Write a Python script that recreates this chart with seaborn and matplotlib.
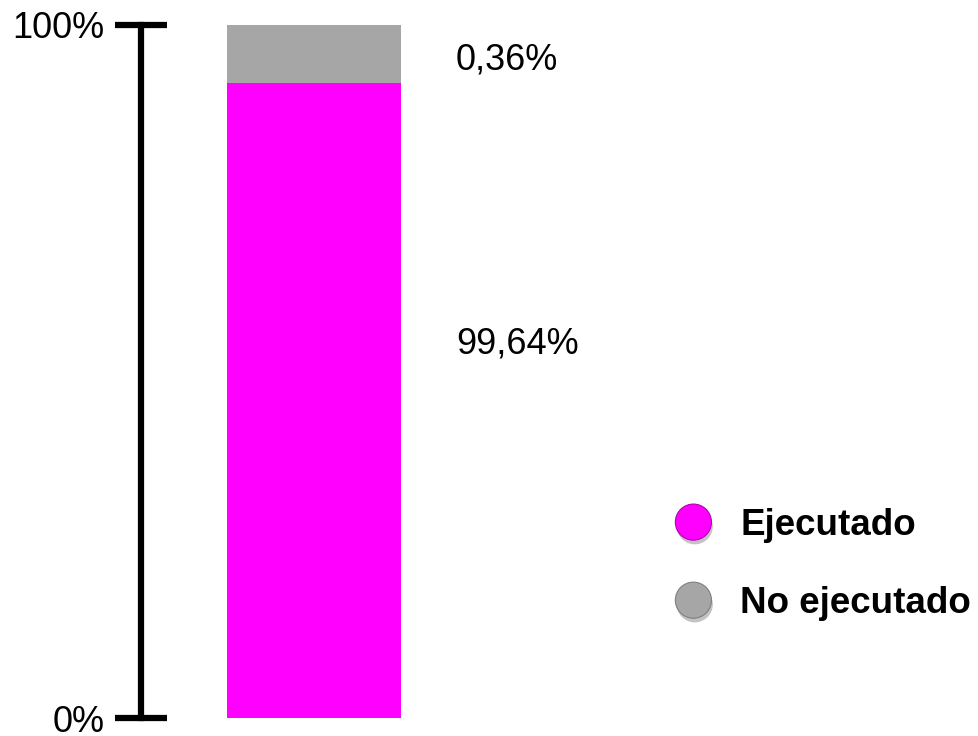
import numpy as np
import pandas as pd
import seaborn as sns
import matplotlib.pyplot as plt
import matplotlib.patheffects as pe
from matplotlib.lines import Line2D

# data
categories = ["Ejecutado", "No ejecutado"]
share_labels = ["99,64%", "0,36%"]
bar_heights = [91.6, 8.4]          # heights as drawn in the picture (%)
label_y = [54.0, 95.0]             # where the value labels sit (%)
colors = ["#FF00FF", "#A6A6A6"]
tick_values = [0, 100]
tick_labels = ["0%", "100%"]

sns.set_theme(style="white")
plt.rcParams['font.family'] = ['Liberation Sans', 'DejaVu Sans']

fig = plt.figure(figsize=(9.79, 7.36), dpi=100)
W, H = 979, 736
ax = fig.add_axes([141 / W, (H - 718) / H, 435 / W, 693 / H])

df = pd.DataFrame({"serie": ["Total"], "total": [sum(bar_heights)], "base": [bar_heights[0]]})
# stacked bar: draw full height in grey, then the lower segment in magenta on top
sns.barplot(data=df, x="serie", y="total", color=colors[1], saturation=1, width=0.8, ax=ax)
sns.barplot(data=df, x="serie", y="base", color=colors[0], saturation=1, width=0.8, ax=ax)
for p in ax.patches:
	p.set_linewidth(0)

ax.set_xlim(-0.795, 1.205)
ax.set_ylim(0, 100)
ax.set_xlabel("")
ax.set_ylabel("")
ax.set_xticks([])
ax.set_yticks(tick_values)
ax.set_yticklabels(tick_labels, fontsize=26, color="black")
ax.tick_params(axis="y", direction="inout", length=37, width=4.5, color="black", pad=8, left=True)
for s in ["top", "right", "bottom"]:
	ax.spines[s].set_visible(False)
ax.spines["left"].set_linewidth(4.5)
ax.spines["left"].set_color("black")
ax.patch.set_alpha(0)

for lab, y in zip(share_labels, label_y):
	ax.text(0.653, y, lab, fontsize=26, va="center", ha="left", color="black")

# glossy-ish legend bullets with a soft drop shadow
edge_cols = ["#B000B0", "#7F7F7F"]
handles = [Line2D([], [], linestyle="none", marker="o", markersize=26,
		markerfacecolor=c, markeredgecolor=e, markeredgewidth=0.8,
		path_effects=[pe.SimplePatchShadow(offset=(1, -3), shadow_rgbFace="#555555", alpha=0.35), pe.Normal()])
	for c, e in zip(colors, edge_cols)]
fig.legend(handles, categories, loc="upper left", bbox_to_anchor=(675 / W, 1 - 508 / H),
	frameon=False, borderpad=0, borderaxespad=0, handlelength=1.0, handletextpad=0.77,
	labelspacing=1.17, labelcolor="black", prop={"size": 26.5, "weight": "bold"})

fig.savefig("out.png", dpi=100)
